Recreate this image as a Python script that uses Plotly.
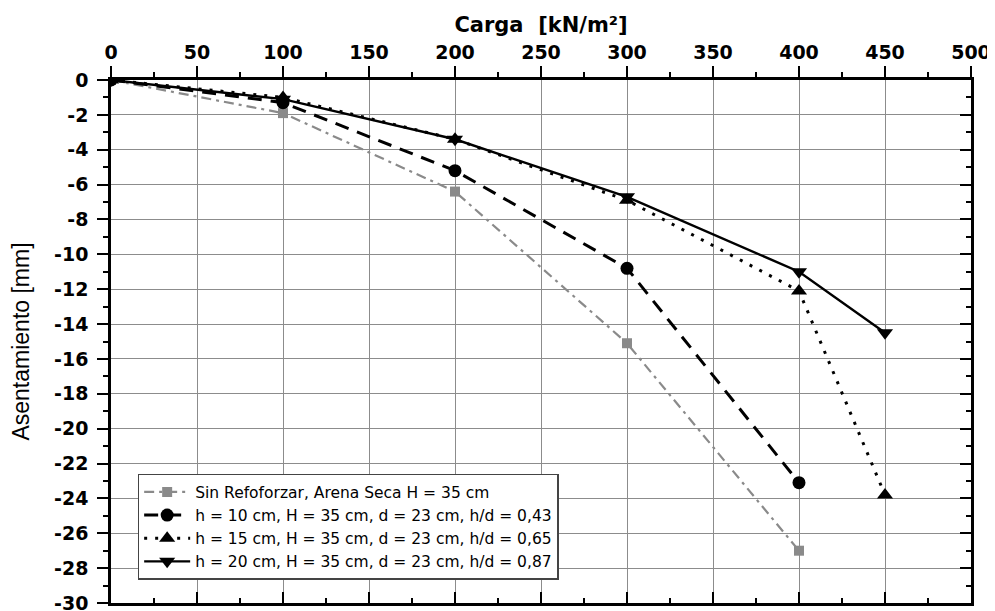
import plotly.graph_objects as go

carga_a = [0, 100, 200, 300, 400]
sin_ref = [0, -1.9, -6.4, -15.1, -27.0]
h10 = [0, -1.3, -5.2, -10.8, -23.1]
carga_b = [0, 100, 200, 300, 400, 450]
h15 = [0, -1.0, -3.4, -6.9, -12.1, -23.8]
h20 = [0, -1.1, -3.4, -6.7, -11.0, -14.5]

x_ticks = list(range(0, 501, 50))
y_ticks = list(range(-30, 1, 2))

names = [
    "Sin Refoforzar, Arena Seca H = 35 cm",
    "h = 10 cm, H = 35 cm, d = 23 cm, h/d = 0,43",
    "h = 15 cm, H = 35 cm, d = 23 cm, h/d = 0,65",
    "h = 20 cm, H = 35 cm, d = 23 cm, h/d = 0,87",
]

fig = go.Figure()
fig.add_trace(go.Scatter(x=carga_a, y=sin_ref, name=names[0], mode="lines+markers",
                         line=dict(color="#8a8a8a", width=2.2, dash="10px,5px,3px,5px"),
                         marker=dict(symbol="square", size=10, color="#8a8a8a")))
fig.add_trace(go.Scatter(x=carga_a, y=h10, name=names[1], mode="lines+markers",
                         line=dict(color="black", width=3, dash="14px,9px"),
                         marker=dict(symbol="circle", size=13, color="black")))
fig.add_trace(go.Scatter(x=carga_b, y=h15, name=names[2], mode="lines+markers",
                         line=dict(color="black", width=3, dash="3px,8px"),
                         marker=dict(symbol="triangle-up", size=14, color="black")))
fig.add_trace(go.Scatter(x=carga_b, y=h20, name=names[3], mode="lines+markers",
                         line=dict(color="black", width=2.4),
                         marker=dict(symbol="triangle-down", size=14, color="black")))
# helper subplot carrying the inward ticks on the right and bottom frame
fig.add_trace(go.Scatter(x=[], y=[], xaxis="x2", yaxis="y2", showlegend=False,
                         hoverinfo="skip"))

tickfont = dict(size=19, family="DejaVu Sans", weight="bold", color="black")

fig.update_layout(
    width=995, height=611,
    margin=dict(l=103, r=32, t=72, b=16),
    paper_bgcolor="white", plot_bgcolor="white",
    font=dict(family="Liberation Sans, Arial", color="black"),
    showlegend=True,
    legend=dict(x=0.031, y=0.247, xanchor="left", yanchor="top",
                bgcolor="white", bordercolor="#444", borderwidth=1.5,
                font=dict(size=15.5, family="DejaVu Sans"), tracegroupgap=0,
                itemwidth=46),
    xaxis=dict(
        side="top", range=[0, 500], tickmode="array",
        tickvals=x_ticks, ticktext=[str(v) for v in x_ticks],
        showgrid=True, gridcolor="#8c8c8c", gridwidth=1.2,
        showline=True, linecolor="black", linewidth=2.5, mirror=True,
        ticks="outside", ticklen=11, tickwidth=2.2, tickcolor="black",
        minor=dict(dtick=25, ticks="outside", ticklen=5, tickwidth=1.8,
                   tickcolor="black", showgrid=False),
        tickfont=tickfont, ticklabelstandoff=0, automargin=False,
        title=dict(text="Carga  [kN/m²]",
                   font=dict(size=21, family="DejaVu Sans", weight="bold"), standoff=3),
        zeroline=False,
    ),
    yaxis=dict(
        range=[-30, 0], tickmode="array",
        tickvals=y_ticks, ticktext=[str(v) for v in y_ticks],
        showgrid=True, gridcolor="#8c8c8c", gridwidth=1.2,
        showline=True, linecolor="black", linewidth=2.5, mirror=True,
        ticks="outside", ticklen=11, tickwidth=2.2, tickcolor="black",
        minor=dict(dtick=1, ticks="outside", ticklen=5, tickwidth=1.8,
                   tickcolor="black", showgrid=False),
        tickfont=tickfont, ticklabelstandoff=5, automargin=False,
        title=dict(text="Asentamiento [mm]", font=dict(size=23), standoff=19),
        zeroline=False,
    ),
    xaxis2=dict(
        overlaying="x", side="bottom", range=[0, 500], anchor="y2",
        tickvals=x_ticks, showticklabels=False, showgrid=False, zeroline=False,
        ticks="inside", ticklen=11, tickwidth=2.2, tickcolor="black",
        minor=dict(dtick=25, ticks="inside", ticklen=5, tickwidth=1.8, tickcolor="black"),
        automargin=False,
    ),
    yaxis2=dict(
        overlaying="y", side="right", range=[-30, 0], anchor="x2",
        tickvals=y_ticks, showticklabels=False, showgrid=False, zeroline=False,
        ticks="inside", ticklen=11, tickwidth=2.2, tickcolor="black",
        minor=dict(dtick=1, ticks="inside", ticklen=5, tickwidth=1.8, tickcolor="black"),
        automargin=False,
    ),
)
fig.write_html("out.html")
